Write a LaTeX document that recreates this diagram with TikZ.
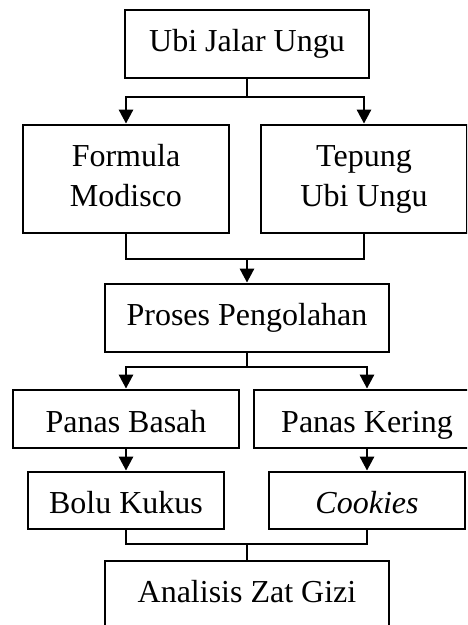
\documentclass[tikz,border=0pt]{standalone}
\usepackage{fontspec}
\setmainfont{Liberation Serif}
\usetikzlibrary{arrows.meta}
\tikzset{
  proc/.style={draw, line width=2.8pt, align=center, inner sep=0pt,
    text height=22pt, text depth=8pt,
    font=\fontsize{32}{40}\selectfont},
  twoline/.style={text height=62pt, text depth=8pt},
  lowtext/.style={text height=30pt, text depth=4pt},
  arr/.style={-{Triangle[length=14pt,width=14pt]}, line width=2.8pt},
  link/.style={line width=2.8pt}
}
\begin{document}
\begin{tikzpicture}[x=1pt,y=1pt]
  \path[use as bounding box, clip] (0,0) rectangle (467,-625);

  % boxes
  \node[proc, minimum width=244pt, minimum height=68pt] (ubi) at (247,-44) {Ubi Jalar Ungu};
  \node[proc, twoline, minimum width=206pt, minimum height=108pt] (formula) at (126,-179) {Formula\\Modisco};
  \node[proc, twoline, minimum width=206pt, minimum height=108pt] (tepung) at (364,-179) {Tepung\\Ubi Ungu};
  \node[proc, minimum width=284pt, minimum height=68pt] (proses) at (247,-318) {Proses Pengolahan};
  \node[proc, lowtext, minimum width=226pt, minimum height=58pt] (basah) at (126,-419) {Panas Basah};
  \node[proc, lowtext, minimum width=226pt, minimum height=58pt] (kering) at (367,-419) {Panas Kering};
  \node[proc, lowtext, minimum width=196pt, minimum height=57pt] (bolu) at (126,-500.5) {Bolu Kukus};
  \node[proc, lowtext, minimum width=196pt, minimum height=57pt] (cookies) at (367,-500.5) {\textit{Cookies}};
  \node[proc, minimum width=284pt, minimum height=68pt] (analisis) at (247,-595) {Analisis Zat Gizi};

  % junctions
  \coordinate (j1) at (247,-97);
  \coordinate (j2) at (247,-259);
  \coordinate (j3) at (247,-367);
  \coordinate (j4) at (247,-544);

  % connectors
  \draw[link] (ubi.south) -- (j1);
  \draw[arr] (j1) -| (formula.north);
  \draw[arr] (j1) -| (tepung.north);

  \draw[link] (formula.south) |- (j2);
  \draw[link] (tepung.south) |- (j2);
  \draw[arr] (j2) -- (proses.north);

  \draw[link] (proses.south) -- (j3);
  \draw[arr] (j3) -| (basah.north);
  \draw[arr] (j3) -| (kering.north);

  \draw[arr] (basah.south) -- (bolu.north);
  \draw[arr] (kering.south) -- (cookies.north);

  \draw[link] (bolu.south) |- (j4);
  \draw[link] (cookies.south) |- (j4);
  \draw[link] (j4) -- (analisis.north);
\end{tikzpicture}
\end{document}
